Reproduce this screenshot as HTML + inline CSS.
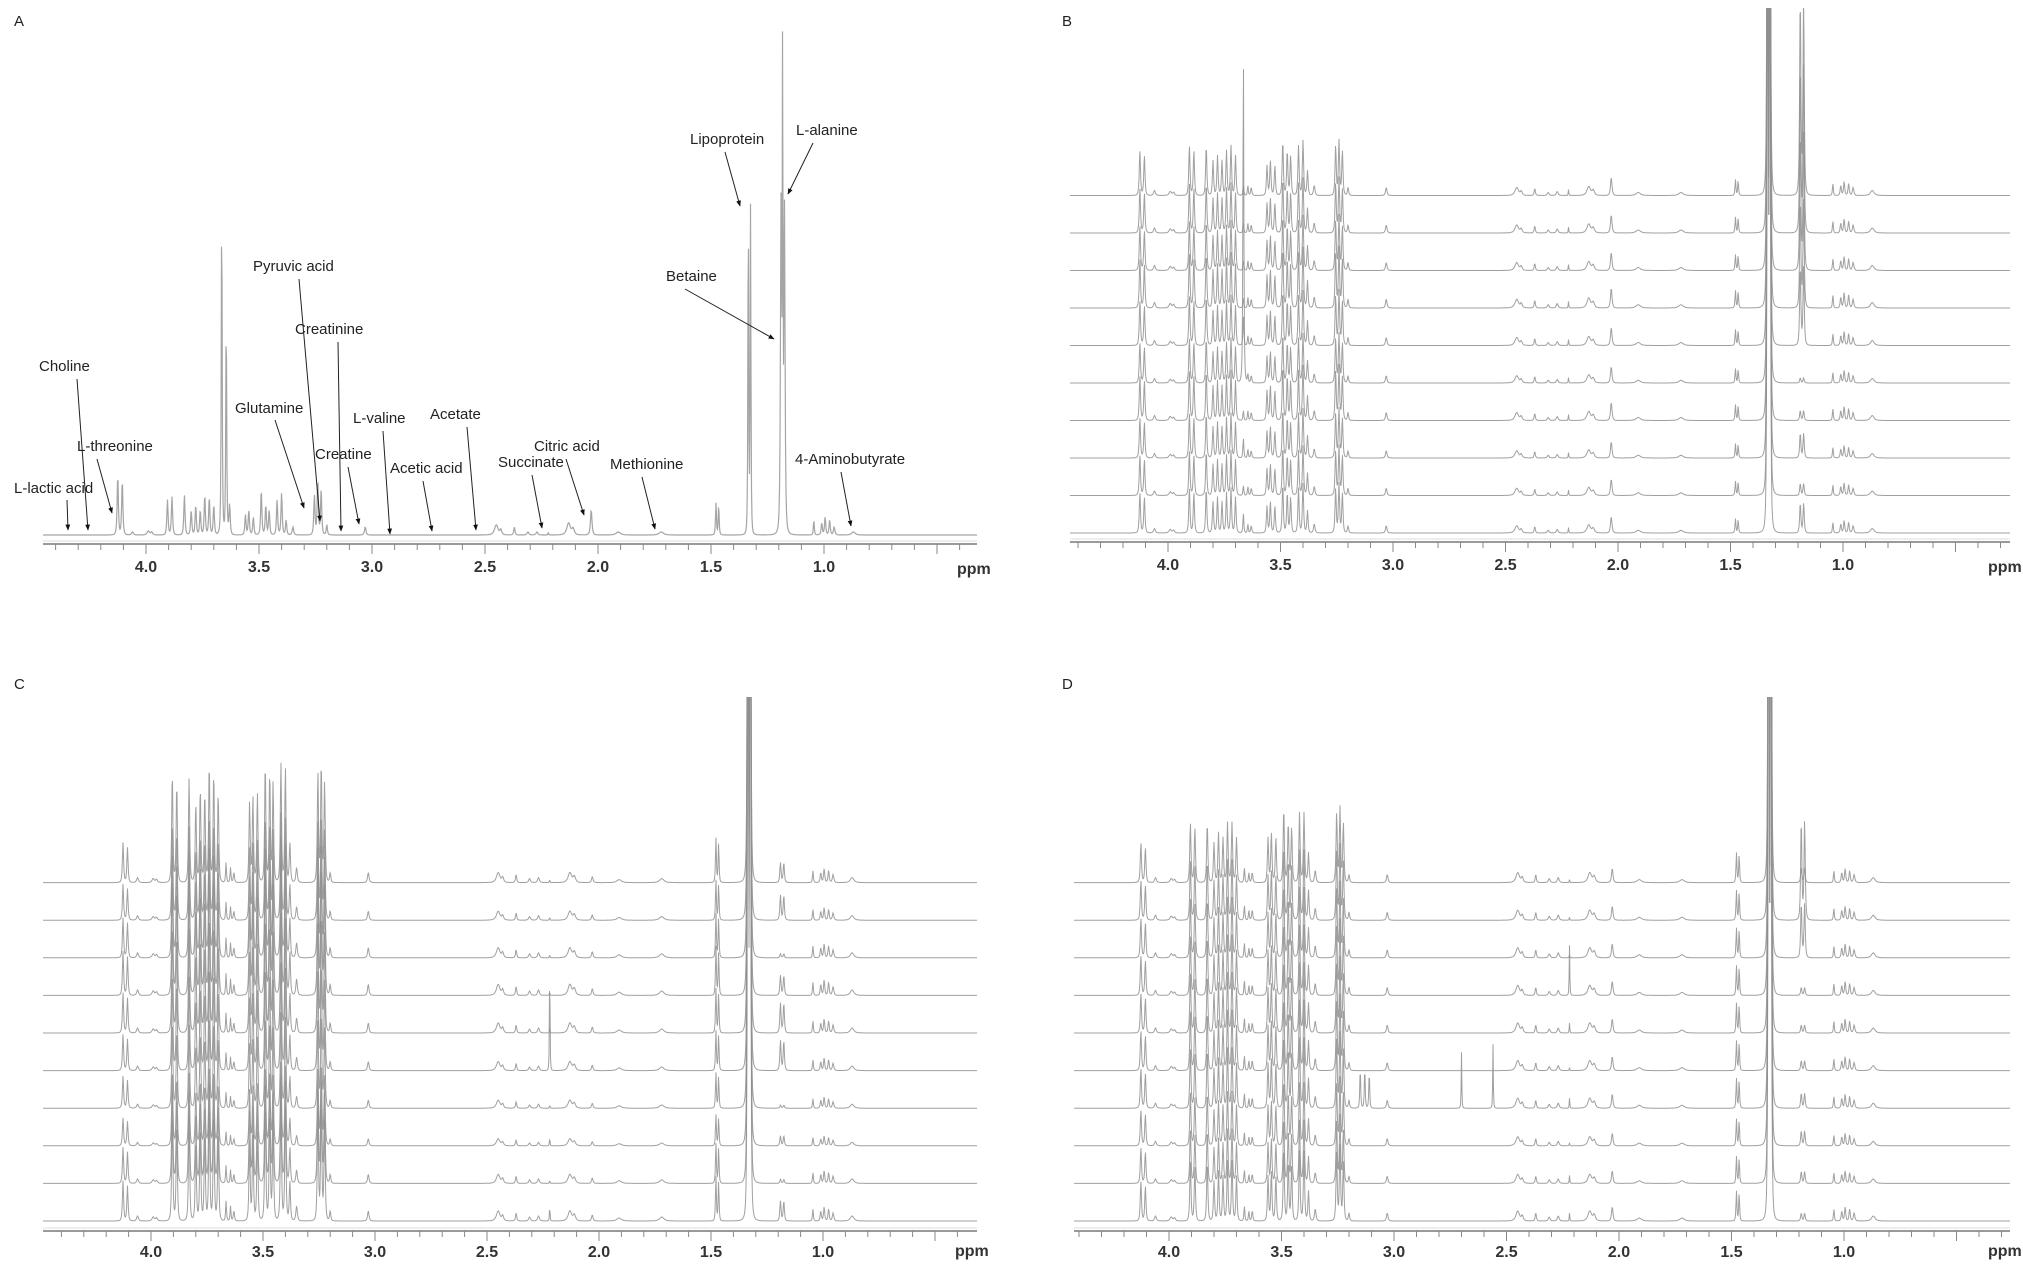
<!DOCTYPE html>
<html><head><meta charset="utf-8">
<style>
html,body{margin:0;padding:0;background:#fff;}
svg{display:block;font-family:"Liberation Sans",Arial,sans-serif;}
.ann{font-size:15px;fill:#222;}
.tick{font-size:16px;fill:#333;font-weight:bold;}
.plab{font-size:15px;fill:#222;}
</style></head>
<body>
<svg id="fig" width="2023" height="1274" viewBox="0 0 2023 1274">
<defs>
<marker id="ah" viewBox="0 0 10 10" refX="9" refY="5" markerWidth="6" markerHeight="6" orient="auto-start-reverse"><path d="M0,1 L10,5 L0,9 z" fill="#111"/></marker>
<clipPath id="clipA"><rect x="40" y="0" width="942" height="540"/></clipPath>
<clipPath id="clipB"><rect x="1065" y="8" width="950" height="533"/></clipPath>
<clipPath id="clipC"><rect x="40" y="697" width="942" height="530"/></clipPath>
<clipPath id="clipD"><rect x="1065" y="697" width="950" height="530"/></clipPath>
</defs>
</svg>
<script>
// peak positions (ppm) and line widths (ppm)
const ppm = [4.125,4.105,4.06,3.99,3.975,3.905,3.885,3.83,3.80,3.78,3.76,3.74,3.72,3.70,3.665,3.645,3.63,3.56,3.545,3.525,3.49,3.47,3.455,3.42,3.40,3.38,3.35,3.255,3.24,3.225,3.20,3.03,2.45,2.43,2.37,2.31,2.27,2.22,2.13,2.11,2.03,1.91,1.72,1.478,1.466,1.335,1.325,1.19,1.175,1.183,1.045,1.01,0.995,0.975,0.955,0.87,3.15,3.13,3.11,2.70,2.56];
const wid = [0.004,0.004,0.006,0.008,0.006,0.004,0.004,0.004,0.004,0.004,0.004,0.004,0.004,0.004,0.003,0.003,0.004,0.004,0.004,0.004,0.004,0.004,0.004,0.004,0.004,0.004,0.005,0.004,0.004,0.004,0.004,0.005,0.012,0.006,0.004,0.006,0.006,0.002,0.012,0.008,0.005,0.015,0.015,0.003,0.003,0.0025,0.0025,0.004,0.004,0.002,0.003,0.004,0.004,0.004,0.005,0.012,0.003,0.003,0.003,0.002,0.002];
// panel A single spectrum heights
const heightsA = [60,55,3,4,3,35,38,40,25,30,25,40,38,30,330,220,30,20,25,18,45,30,25,35,42,15,8,40,55,45,10,8,10,5,8,3,3,3,12,6,25,3,3,32,30,340,330,330,325,495,15,12,18,15,8,3,0,0,0,0,0];
// stacked panel base heights
const heightsB = [45,40,5,4,3,50,45,50,35,40,35,45,50,40,15,10,8,30,35,30,55,45,40,50,55,25,10,50,55,45,8,8,8,4,7,3,4,6,9,5,18,3,3,16,15,1500,1500,8,8,0,12,10,14,12,8,5,0,0,0,0,0];
const heightsC = [40,35,5,4,3,110,100,105,80,95,90,120,110,90,20,15,10,80,85,90,120,110,100,120,115,40,15,110,120,100,10,10,10,5,8,4,5,4,10,6,6,3,4,45,40,1500,1500,10,10,0,12,10,14,12,8,5,0,0,0,0,0];
const heightsD = [40,35,5,4,3,60,55,60,40,50,45,60,60,45,15,10,10,45,50,45,75,60,55,70,70,30,12,70,75,60,8,8,10,5,8,4,5,5,10,6,14,3,3,30,28,1500,1500,8,8,0,12,10,14,12,8,5,0,0,0,0,0];
// per-trace (top to bottom) scale and specific peak heights
const traceScaleB = [1,1,1,1.1,1,0.9,1,0.9,0.9,0.9];
const alanineB = [200,170,140,110,80,5,10,25,12,30];
const peak366B = [10,10,10,10,30,330,10,20,10,20];
const traceScaleC = [1,0.9,1,1.1,1,0.9,0.8,0.7,0.9,1];
const alanineC = [20,25,4,20,30,30,3,10,4,20];
const spike222C = [3,3,3,3,5,110,3,8,3,15];
const traceScaleD = [1,1,1,1,1,1,1,0.9,0.9,1];
const alanineD = [15,100,55,8,8,10,15,15,12,8];
const spike222D = [3,3,3,50,10,3,10,3,8,8];
const extraD = [0,0,0,0,0,0,40,0,0,0];
const tickLabels = ["4.0","3.5","3.0","2.5","2.0","1.5","1.0"];
const tickValues = [4.0,3.5,3.0,2.5,2.0,1.5,1.0];

const NS = "http://www.w3.org/2000/svg";
const svg = document.getElementById("fig");
function el(tag, attrs, parent){const e=document.createElementNS(NS,tag);for(const k in attrs)e.setAttribute(k,attrs[k]);(parent||svg).appendChild(e);return e;}

const panels = {
  A:{x4:146,ppp:226,left:43,right:977,base:535,axisY:544,spacing:0,clip:"clipA",letter:[14,26],ppmLab:[957,574],lab:28},
  B:{x4:1168,ppp:225,left:1070,right:2010,base:533,axisY:542,spacing:37.5,clip:"clipB",letter:[1062,26],ppmLab:[1988,572],lab:28},
  C:{x4:151,ppp:224,left:43,right:977,base:1221,axisY:1231,spacing:37.6,clip:"clipC",letter:[14,689],ppmLab:[955,1256],lab:26},
  D:{x4:1169,ppp:225,left:1074,right:2010,base:1221,axisY:1231,spacing:37.6,clip:"clipD",letter:[1062,689],ppmLab:[1988,1256],lab:26}
};
function xScale(p,v){return p.x4+(4.0-v)*p.ppp;}
function xInv(p,x){return 4.0-(x-p.x4)/p.ppp;}

function tracePath(p, heights, baseY){
  let d="";
  for(let x=p.left;x<=p.right;x+=0.5){
    const v=xInv(p,x);let s=0;
    for(let i=0;i<ppm.length;i++){const h=heights[i];if(!h)continue;const q=(v-ppm[i])/wid[i];const r=1+q*q;s+=h/(r*Math.sqrt(r));}
    const y=baseY-s;
    d+=(d?"L":"M")+x.toFixed(1)+","+Math.max(y,-50).toFixed(1);
  }
  return d;
}

function drawAxis(name,p){
  const g=el("g",{});
  
  
  el("line",{x1:p.left,x2:p.right,y1:p.axisY,y2:p.axisY,stroke:"#9a9a9a","stroke-width":2},g);
  el("line",{x1:p.left,x2:p.right,y1:p.axisY-3,y2:p.axisY-3,stroke:"#dcdcdc","stroke-width":1},g);
  for(let k=44;k>=3;k--){
    const v=k/10;const x=xScale(p,v);
    if(x<p.left||x>p.right)continue;
    const major=(k%5===0);
    el("line",{x1:x,x2:x,y1:p.axisY,y2:p.axisY+(major?10:6),stroke:"#888","stroke-width":1},g);
  }
  tickValues.forEach((v,i)=>{
    const t=el("text",{x:xScale(p,v),y:p.axisY+p.lab,"text-anchor":"middle",class:"tick"},g);
    t.textContent=tickLabels[i];
    
    
  });
  const u=el("text",{x:p.ppmLab[0],y:p.ppmLab[1],class:"tick","font-weight":"normal"},g);
  u.textContent="ppm";
  
  
  const L=el("text",{x:p.letter[0],y:p.letter[1],class:"plab"});
  L.textContent=name;
  
  
}

// Panel A
(function(){
  const p=panels.A;
  const g=el("g",{"clip-path":"url(#clipA)"});
  
  
  const path=el("path",{d:tracePath(p,heightsA,p.base),fill:"none",stroke:"#a5a5a5","stroke-width":1.2},g);
  
  
  drawAxis("A",p);
})();

function stacked(name,base,scale,mod){
  const p=panels[name];
  const g=el("g",{"clip-path":"url(#"+p.clip+")"});
  
  
  for(let t=9;t>=0;t--){
    const h=base.map(v=>v*scale[t]);
    h[45]=base[45];h[46]=base[46];
    mod(h,t);
    const y=p.base-(9-t)*p.spacing;
    const path=el("path",{d:tracePath(p,h,y),fill:"none",stroke:"#8f8f8f","stroke-width":1,"stroke-opacity":0.85},g);
    
    
  }
  drawAxis(name,p);
}
stacked("B",heightsB,traceScaleB,(h,t)=>{h[47]=alanineB[t];h[48]=alanineB[t];h[14]=peak366B[t];});
stacked("C",heightsC,traceScaleC,(h,t)=>{h[47]=alanineC[t];h[48]=alanineC[t];h[37]=spike222C[t];});
stacked("D",heightsD,traceScaleD,(h,t)=>{h[47]=alanineD[t];h[48]=alanineD[t];h[37]=spike222D[t];h[56]=extraD[t];h[57]=extraD[t];h[58]=extraD[t]*0.9;h[59]=extraD[t]*1.4;h[60]=extraD[t]*1.6;});

// Panel A annotations: [text, textX, textY, arrowX1, arrowY1, arrowX2, arrowY2]
const annotations = [
 ["L-lactic acid",14,493,67,500,68,530],
 ["Choline",39,371,77,379,88,530],
 ["L-threonine",77,451,97,459,112,513],
 ["Glutamine",235,413,275,420,304,508],
 ["Pyruvic acid",253,271,299,279,320,521],
 ["Creatinine",295,334,338,342,341,531],
 ["Creatine",315,459,348,467,359,524],
 ["L-valine",353,423,383,431,390,534],
 ["Acetic acid",390,473,423,481,432,531],
 ["Acetate",430,419,467,427,476,530],
 ["Succinate",498,467,532,475,542,528],
 ["Citric acid",534,451,566,459,584,515],
 ["Methionine",610,469,642,477,655,529],
 ["4-Aminobutyrate",795,464,841,472,851,526],
 ["Betaine",666,281,685,289,774,339],
 ["Lipoprotein",690,144,725,152,740,206],
 ["L-alanine",796,135,813,143,788,194]
];
annotations.forEach(a=>{
  const g=el("g",{});
  
  
  const t=el("text",{x:a[1],y:a[2],class:"ann"},g);
  t.textContent=a[0];
  el("line",{x1:a[3],y1:a[4],x2:a[5],y2:a[6],stroke:"#222","stroke-width":1,"marker-end":"url(#ah)"},g);
});
</script>
</body></html>
